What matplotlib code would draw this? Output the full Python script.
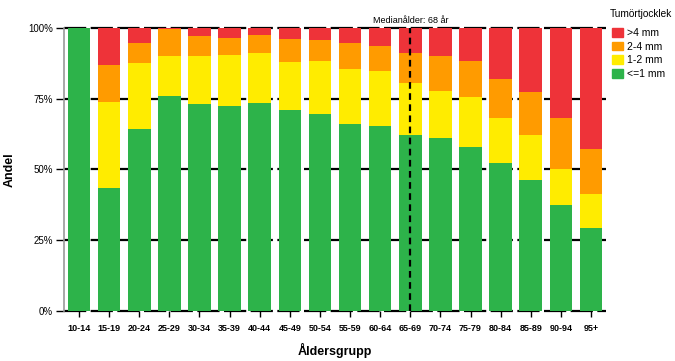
"""
Tumörtjocklek per åldersgrupp, staplad andel
"""

import numpy as np
import matplotlib.pyplot as plt
from matplotlib.patches import Patch

### Data
groups = ['10-14', '15-19', '20-24', '25-29', '30-34', '35-39', '40-44', '45-49', '50-54',
          '55-59', '60-64', '65-69', '70-74', '75-79', '80-84', '85-89', '90-94', '95+']
le1 = [100.0, 43.5, 64.2, 76.0, 73.1, 72.4, 73.6, 71.0, 69.5,
       66.1, 65.4, 62.1, 61.1, 58.0, 52.2, 46.4, 37.4, 29.5]
mm1_2 = [0.0, 30.5, 23.3, 14.1, 17.0, 18.0, 17.5, 17.0, 18.7,
         19.4, 19.5, 18.4, 16.7, 17.7, 16.0, 15.7, 12.6, 12.0]
mm2_4 = [0.0, 12.9, 7.3, 9.5, 7.2, 6.2, 6.5, 8.1, 7.6,
         9.1, 8.9, 10.6, 12.3, 12.5, 13.8, 15.4, 18.3, 15.7]
gt4 = [0.0, 13.1, 5.2, 0.4, 2.7, 3.4, 2.4, 3.9, 4.2,
       5.4, 6.2, 8.9, 9.9, 11.8, 18.0, 22.5, 31.7, 42.8]
median_group = '65-69'
median_text = 'Medianålder: 68 år'

series = [('<=1 mm', le1, '#2db34a'),
          ('1-2 mm', mm1_2, '#ffec00'),
          ('2-4 mm', mm2_4, '#ff9b00'),
          ('>4 mm', gt4, '#ee3339')]

### Plot
plt.rcParams['font.family'] = ['Liberation Sans', 'DejaVu Sans']
fig = plt.figure(figsize=(6.75, 3.61), dpi=100)
ax = fig.add_axes([0.0948, 0.1385, 0.8030, 0.7840])

x = np.arange(len(groups))
bottom = np.zeros(len(groups))
for name, vals, col in series:
    ax.bar(x, vals, width=0.75, bottom=bottom, color=col, label=name, zorder=2)
    bottom += np.array(vals)

### Grid lines
for yv in [0, 25, 50, 75, 100]:
    ax.axhline(yv, color='black', lw=1.6, dashes=(10, 2), zorder=1, clip_on=False)

### Median
xm = groups.index(median_group)
ax.plot([xm, xm], [0, 100], color='black', lw=1.6, dashes=(3, 2), zorder=3)
ax.text(xm, 101.2, median_text, ha='center', va='bottom', fontsize=6.5)

ax.set_xlim(-0.5, len(groups) - 0.5)
ax.set_ylim(0, 100)
ax.set_yticks([0, 25, 50, 75, 100])
ax.set_yticklabels(['0%', '25%', '50%', '75%', '100%'], fontsize=7)
ax.set_xticks(x)
ax.set_xticklabels(groups, fontsize=6.5, fontweight='bold')
ax.tick_params(axis='x', length=4, width=1, pad=5)
ax.tick_params(axis='y', length=6, width=1, pad=2)

for s in ['top', 'right', 'bottom']:
    ax.spines[s].set_visible(False)
ax.spines['left'].set_color('#999999')
ax.spines['left'].set_linewidth(1.2)

### Axis titles
fig.text(10 / 675, 1 - 170 / 361, 'Andel', fontsize=9, fontweight='bold',
         rotation=90, ha='center', va='center')
fig.text(335 / 675, 1 - 350 / 361, 'Åldersgrupp', fontsize=9, fontweight='bold',
         ha='center', va='center')

### Legend
fig.text(610 / 675, 1 - 14 / 361, 'Tumörtjocklek', fontsize=7.3, ha='left', va='center')
handles = [Patch(color=c, label=n) for n, v, c in series[::-1]]
leg = fig.legend(handles=handles, loc='upper left',
                 bbox_to_anchor=(612 / 675, 1 - 28 / 361), frameon=False, fontsize=7.5,
                 handlelength=1.1, handleheight=0.9, borderpad=0,
                 handletextpad=0.35, labelspacing=0.35, borderaxespad=0)

plt.savefig('out.png', dpi=100)
